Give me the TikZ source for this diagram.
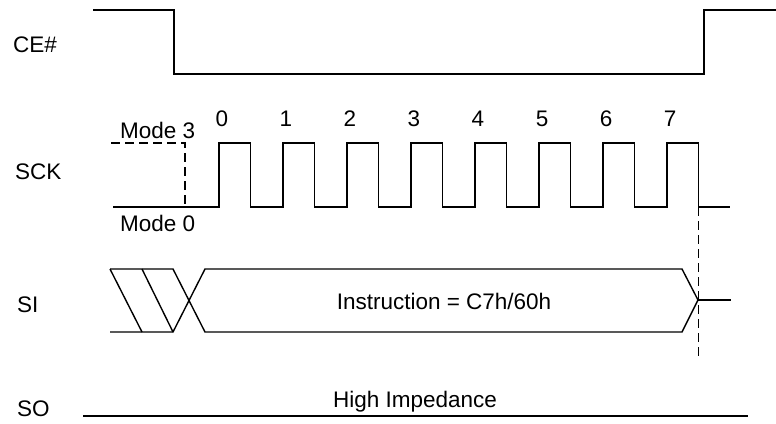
\documentclass[tikz,border=0pt]{standalone}
\usepackage{fontspec}
\setmainfont{Liberation Sans}
\begin{document}
\begin{tikzpicture}[x=1pt,y=-1pt,
  sig/.style={line width=1.4pt,line join=miter},
  dsh/.style={line width=1.4pt,dash pattern=on 9pt off 5pt},
  lab/.style={inner sep=0pt,font=\fontsize{22.5}{27}\selectfont}]
\useasboundingbox (0,0) rectangle (776,423);
% labels
\node[lab,anchor=base west] (ce) at (13,52) {CE\#};
\node[lab,anchor=base west] (sck) at (15,179) {SCK};
\node[lab,anchor=base west] (si) at (17,312) {SI};
\node[lab,anchor=base west] (so) at (17,416) {SO};
\node[lab,anchor=base west] (m3) at (120,138) {Mode 3};
\node[lab,anchor=base west] (m0) at (120,231) {Mode 0};
\foreach \i in {0,...,7} \node[lab,anchor=base] (n\i) at ({222+64*\i},126) {\i};
\node[lab,anchor=base] (instr) at (444,309) {Instruction = C7h/60h};
\node[lab,anchor=base] (hiz) at (415,407) {High Impedance};
% CE#
\draw[sig] (93,10) -- (174,10) -- (174,74) -- (704,74) -- (704,10) -- (776,10);
% SCK
\draw[sig] (113,207) foreach \i in {0,...,7} { -- ({219+64*\i},207) -- ({219+64*\i},143) -- ({250.5+64*\i},143) -- ({250.5+64*\i},207) } -- (730,207);
\draw[dsh] (111,143) -- (185,143) -- (185,207);
\draw[dsh] (698.5,207) -- (698.5,359);
% SI
\draw[sig] (110,269) -- (173,269) -- (205,332) -- (682,332) -- (698,300) -- (682,269) -- (205,269) -- (173,332) -- (110,332);
\draw[sig] (110,269) -- (142,332);
\draw[sig] (142,269) -- (173,332);
\draw[sig] (698,300) -- (731,300);
% SO
\draw[sig] (83,416) -- (748,416);
\end{tikzpicture}
\end{document}
